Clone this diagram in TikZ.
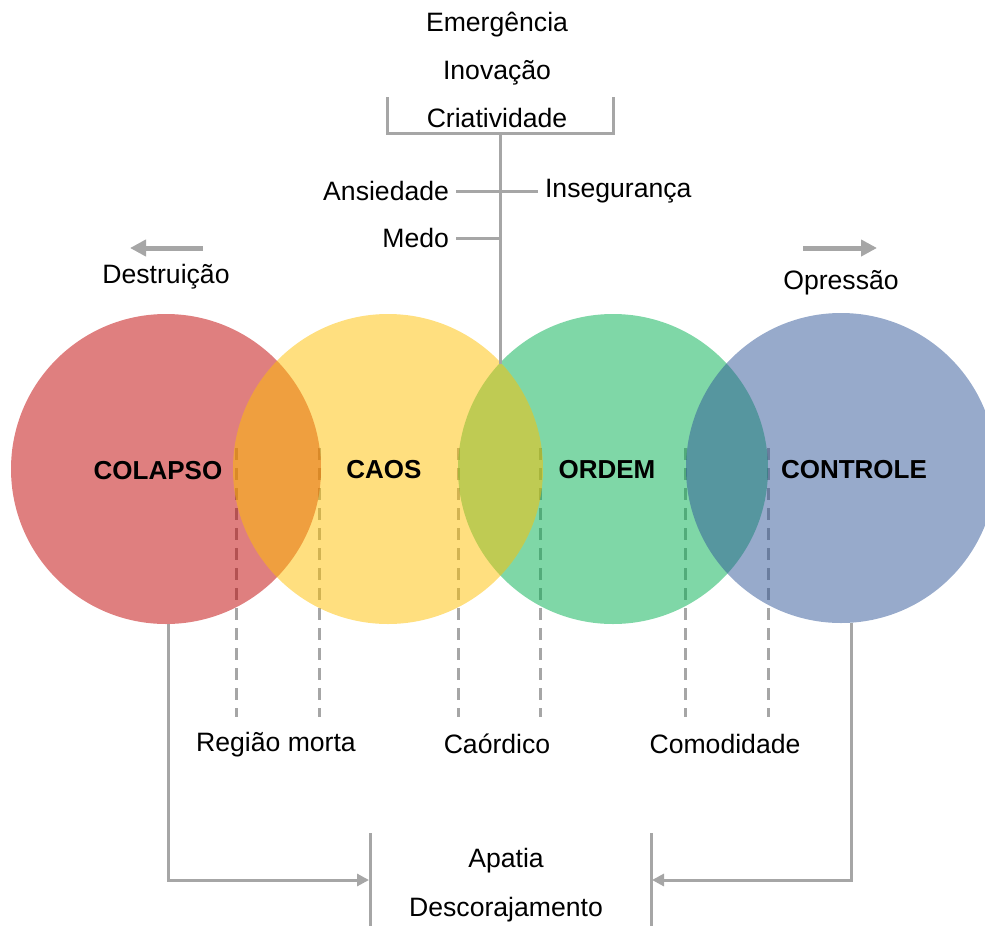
\documentclass[tikz,border=0pt]{standalone}
\usepackage{fontspec}
\setmainfont{Liberation Sans}
\usetikzlibrary{arrows.meta,positioning}
\definecolor{colr}{HTML}{C00000}
\definecolor{coly}{HTML}{FFC000}
\definecolor{colg}{HTML}{00B050}
\definecolor{colb}{HTML}{2F5597}
\definecolor{linec}{HTML}{A6A6A6}
\tikzset{
  gl/.style={linec,line width=1.5pt},
  dl/.style={linec,line width=1.5pt,dash pattern=on 6pt off 4pt},
  ga/.style={gl,-{Triangle[length=6pt,width=6pt]}},
  ba/.style={linec,line width=2.5pt,-{Triangle[length=8pt,width=8pt]}},
  ci/.style={circle,minimum size=155pt,inner sep=0pt,draw=none,fill opacity=0.5},
  lb/.style={font=\fontsize{13.3}{16}\selectfont},
  cl/.style={font=\fontsize{13}{16}\selectfont\bfseries}
}
\begin{document}
\begin{tikzpicture}[x=0.5pt,y=-0.5pt]
\useasboundingbox (0,0) rectangle (985,926);
% dashed region marks
\foreach \xx in {236,319,458,540,685,768}
  \draw[dl] (\xx,448) -- (\xx,717);
% circles
\node[ci,fill=colr] (colapso) at (166,469) {};
\node[ci,fill=colg] (ordem) at (613,469) {};
\node[ci,fill=coly] (caos) at (388,469) {};
\node[ci,fill=colb] (controle) at (841,468) {};
\node[cl] (tcolapso) at (158,471) {COLAPSO};
\node[cl] (tcaos) at (384,470) {CAOS};
\node[cl] (tordem) at (607,470) {ORDEM};
\node[cl] (tcontrole) at (854,470) {CONTROLE};
% top
\node[lb] (emerg) at (497,25) {Emergência};
\node[lb] (inov) at (497,73) {Inovação};
\node[lb] (criat) at (497,118) {Criatividade};
\coordinate (bl) at (387,97);
\coordinate (br) at (613,97);
\coordinate (top) at (500,133);
\coordinate (meet) at (500,364);
\draw[gl] (bl) |- (br |- top) -- (br);
\draw[gl] (top) -- (meet);
\node[lb,anchor=east] (ansied) at (456,191) {Ansiedade};
\node[lb,anchor=west] (insegur) at (538,191) {Insegurança};
\node[lb,anchor=east] (medo) at (456,238) {Medo};
\draw[gl] (ansied) -- (insegur);
\draw[gl] (medo) -- (medo -| meet);
% side arrows
\node[lb] (destr) at (166,277) {Destruição};
\node[lb] (opress) at (841,283) {Opressão};
\coordinate (d1) at (203,248);
\coordinate (d2) at (130,248);
\coordinate (o1) at (803,248);
\coordinate (o2) at (877,248);
\draw[ba] (d1) -- (d2);
\draw[ba] (o1) -- (o2);
% bottom
\node[lb] (regiao) at (276,745) {Região morta};
\node[lb] (caord) at (497,744) {Caórdico};
\node[lb] (comod) at (725,744) {Comodidade};
\node[lb] (apatia) at (506,861) {Apatia};
\node[lb] (descor) at (506,910) {Descorajamento};
\coordinate (al) at (370,833);
\coordinate (ar) at (651,833);
\draw[gl] (al) -- ++(0,93);
\draw[gl] (ar) -- ++(0,93);
\coordinate (ae) at (369,880);
\coordinate (be) at (652,880);
\draw[ga] ([xshift=1pt]colapso.south) |- (ae);
\draw[ga] ([xshift=5pt]controle.south) |- (be);
\end{tikzpicture}
\end{document}
